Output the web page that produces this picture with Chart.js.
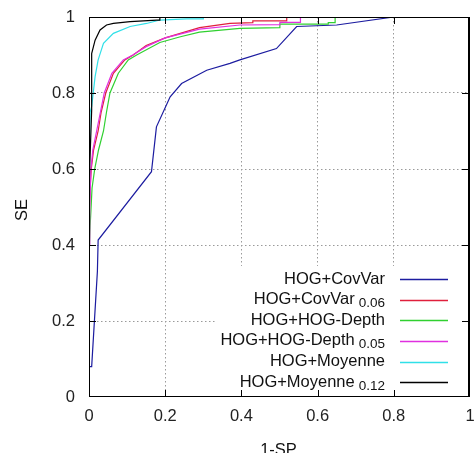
<!DOCTYPE html>
<html><head><meta charset="utf-8">
<script src="https://cdn.jsdelivr.net/npm/chart.js@4"></script>
<style>html,body{margin:0;padding:0;background:#fff;overflow:hidden}canvas{display:block}</style>
</head><body>
<canvas id="c" width="475" height="453"></canvas>
<script>
// ---- data ----
const seriesNames = ['HOG+CovVar', 'HOG+CovVar', 'HOG+HOG-Depth', 'HOG+HOG-Depth', 'HOG+Moyenne', 'HOG+Moyenne'];
const seriesSubs  = ['', '0.06', '', '0.05', '', '0.12'];
const seriesColors = ['#1c1ca0', '#e0203c', '#30d030', '#e030e0', '#30e0e8', '#000000'];

const covVarX = [0, 0.001, 0.001, 0.007, 0.022, 0.024, 0.164, 0.177, 0.213, 0.243, 0.309, 0.37, 0.396, 0.492, 0.545, 0.65, 0.8, 0.912];
const covVarY = [0, 0.026, 0.08, 0.08, 0.33, 0.413, 0.593, 0.711, 0.79, 0.825, 0.86, 0.878, 0.887, 0.917, 0.975, 0.979, 1, 1];

const covVar06X = [0, 0.003, 0.006, 0.012, 0.024, 0.032, 0.044, 0.064, 0.094, 0.116, 0.15, 0.2, 0.29, 0.37, 0.43, 0.43, 0.519, 0.519, 0.55];
const covVar06Y = [0.45, 0.55, 0.6, 0.65, 0.7, 0.75, 0.8, 0.852, 0.887, 0.9, 0.925, 0.945, 0.972, 0.983, 0.985, 0.99, 0.99, 1, 1];

const depthX = [0, 0.003, 0.008, 0.015, 0.025, 0.038, 0.046, 0.055, 0.077, 0.103, 0.125, 0.186, 0.24, 0.29, 0.396, 0.501, 0.501, 0.628, 0.628, 0.646, 0.646, 0.68];
const depthY = [0.36, 0.45, 0.55, 0.6, 0.65, 0.7, 0.75, 0.8, 0.852, 0.887, 0.9, 0.933, 0.948, 0.96, 0.97, 0.972, 0.981, 0.981, 0.985, 0.985, 1, 1];

const depth05X = [0, 0.002, 0.005, 0.01, 0.02, 0.03, 0.04, 0.06, 0.09, 0.115, 0.15, 0.2, 0.29, 0.396, 0.501, 0.501, 0.555, 0.555, 0.58];
const depth05Y = [0.4, 0.5, 0.6, 0.65, 0.7, 0.75, 0.8, 0.852, 0.887, 0.9, 0.922, 0.945, 0.968, 0.979, 0.98, 0.986, 0.986, 1, 1];

const moyX = [0, 0.003, 0.007, 0.016, 0.024, 0.038, 0.064, 0.108, 0.151, 0.186, 0.256, 0.3, 0.3, 0.33];
const moyY = [0.55, 0.75, 0.764, 0.843, 0.887, 0.931, 0.957, 0.975, 0.983, 0.992, 0.995, 0.995, 1, 1];

const moy12X = [0, 0, 0.007, 0.007, 0.016, 0.029, 0.046, 0.064, 0.108, 0.178, 0.186, 0.186, 0.3];
const moy12Y = [0, 0.55, 0.755, 0.904, 0.939, 0.966, 0.979, 0.983, 0.988, 0.992, 0.992, 1, 1];

const xTickLabels = ['0', '0.2', '0.4', '0.6', '0.8', '1'];
const yTickLabels = ['0', '0.2', '0.4', '0.6', '0.8', '1'];
const xTitle = '1-SP';
const yTitle = 'SE';

// ---- build ----
const FONT = '"Liberation Sans", Arial, sans-serif';
const allX = [covVarX, covVar06X, depthX, depth05X, moyX, moy12X];
const allY = [covVarY, covVar06Y, depthY, depth05Y, moyY, moy12Y];
const datasets = allX.map((xs, i) => ({
  label: seriesNames[i] + (seriesSubs[i] ? ' ' + seriesSubs[i] : ''),
  data: xs.map((x, k) => ({x: x, y: allY[i][k]})),
  borderColor: seriesColors[i],
  backgroundColor: seriesColors[i],
  borderWidth: 1.2,
  pointRadius: 0,
  fill: false,
  tension: 0,
  order: 5 - i
}));

const gridColor = ctx => {
  const v = ctx.tick ? ctx.tick.value : null;
  return (v !== null && (Math.abs(v) < 1e-6 || Math.abs(v - 1) < 1e-6)) ? 'rgba(0,0,0,0)' : '#9a9a9a';
};

const framePlugin = {
  id: 'frame',
  beforeDatasetsDraw(chart) {
    const ctx = chart.ctx, x = chart.scales.x, y = chart.scales.y;
    // key area (no grid behind it)
    const l = x.getPixelForValue(0.336), r = x.getPixelForValue(0.982);
    const t = y.getPixelForValue(0.345), b = y.getPixelForValue(0.003);
    ctx.save(); ctx.fillStyle = '#fff'; ctx.fillRect(l, t, r - l, b - t); ctx.restore();
  },
  afterDraw(chart) {
    const ctx = chart.ctx, a = chart.chartArea, x = chart.scales.x, y = chart.scales.y;
    ctx.save();
    ctx.setLineDash([]);
    ctx.globalAlpha = 1;
    ctx.globalCompositeOperation = 'source-over';
    // frame + inward tics
    ctx.fillStyle = '#000';
    const L = Math.round(a.left), R = Math.round(a.right) - 1;
    const T = Math.round(a.top), B = Math.round(a.bottom) - 1;
    ctx.fillRect(L, T, R - L + 1, 1);
    ctx.fillRect(L, B, R - L + 1, 1);
    ctx.fillRect(L, T, 1, B - T + 1);
    ctx.fillRect(R - 1, T, 2, B - T + 1);
    for (let k = 1; k < xTickLabels.length - 1; k++) {
      const px = Math.round(x.getPixelForValue(k / (xTickLabels.length - 1)));
      ctx.fillRect(px, B - 6, 1, 6);
      ctx.fillRect(px, T + 1, 1, 6);
    }
    for (let k = 1; k < yTickLabels.length - 1; k++) {
      const py = Math.round(y.getPixelForValue(k / (yTickLabels.length - 1)));
      ctx.fillRect(L + 1, py, 6, 1);
      ctx.fillRect(R - 7, py, 6, 1);
    }

    ctx.fillStyle = '#111';
    // axis titles
    ctx.font = '16.5px ' + FONT;
    ctx.textAlign = 'center'; ctx.textBaseline = 'alphabetic';
    ctx.fillText(xTitle, (a.left + a.right) / 2 - 1, 455);
    ctx.save();
    ctx.translate(22, (a.top + a.bottom) / 2 + 3);
    ctx.rotate(-Math.PI / 2);
    ctx.textBaseline = 'middle';
    ctx.fillText(yTitle, 0, 0);
    ctx.restore();
    // key
    const textRight = 385, lineL = 400, lineR = 448, row0 = 279.3, rowStep = 20.55;
    for (let i = 0; i < seriesNames.length; i++) {
      const ly = row0 + i * rowStep;
      ctx.textAlign = 'right';
      let xr = textRight;
      if (seriesSubs[i]) {
        ctx.font = '13.5px ' + FONT;
        ctx.fillText(seriesSubs[i], xr, ly + 7.5);
        xr -= ctx.measureText(seriesSubs[i]).width + 4;
      }
      ctx.font = '16.5px ' + FONT;
      ctx.fillText(seriesNames[i], xr, ly + 4.5);
      ctx.strokeStyle = seriesColors[i]; ctx.lineWidth = 1.3;
      ctx.beginPath();
      ctx.moveTo(lineL, Math.round(ly) + 0.5); ctx.lineTo(lineR, Math.round(ly) + 0.5);
      ctx.stroke();
    }
    ctx.restore();
  }
};

new Chart(document.getElementById('c'), {
  type: 'line',
  data: { datasets: datasets },
  options: {
    responsive: false,
    animation: false,
    layout: { padding: { left: 0, top: 17, right: 5, bottom: 0 } },
    plugins: { legend: { display: false }, tooltip: { enabled: false } },
    scales: {
      x: {
        type: 'linear', min: 0, max: 1,
        ticks: { stepSize: 0.2, autoSkip: false, maxRotation: 0, padding: 0, color: '#222',
                 font: { size: 16.5, family: FONT }, callback: (v, i) => xTickLabels[i] },
        grid: { drawTicks: true, tickLength: 10, tickColor: 'rgba(0,0,0,0)', color: gridColor, lineWidth: 1 },
        border: { display: false, dash: [1.5, 2.5] },
        afterFit: s => { s.height = 56; }
      },
      y: {
        type: 'linear', min: 0, max: 1,
        ticks: { stepSize: 0.2, autoSkip: false, padding: 0, color: '#222',
                 font: { size: 16.5, family: FONT }, callback: (v, i) => yTickLabels[i] },
        grid: { drawTicks: true, tickLength: 14, tickColor: 'rgba(0,0,0,0)', color: gridColor, lineWidth: 1 },
        border: { display: false, dash: [1.5, 2.5] },
        afterFit: s => { s.width = 89; }
      }
    }
  },
  plugins: [framePlugin]
});
</script>
</body></html>
